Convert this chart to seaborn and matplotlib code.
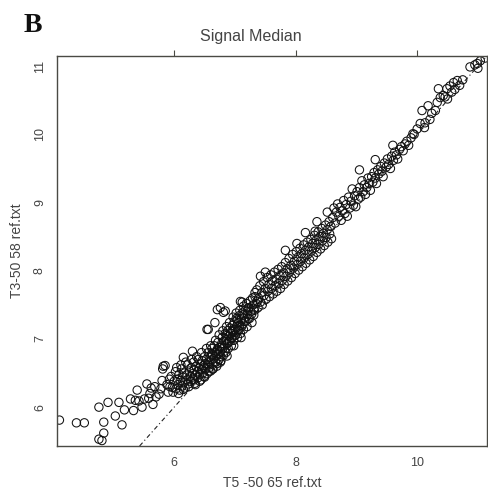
import pandas as pd
import matplotlib
matplotlib.use("Agg")
import matplotlib.pyplot as plt
import seaborn as sns

# points, grouped along the cloud (x = T5-50 65, y = T3-50 58)
low_tail = [(4.11, 5.81), (4.39, 5.77), (4.52, 5.77), (4.76, 5.53), (4.81, 5.51), (4.84, 5.62),
            (4.84, 5.78), (4.76, 6.00), (4.91, 6.07), (5.09, 6.07), (5.03, 5.87), (5.14, 5.74),
            (5.18, 5.96), (5.28, 6.12), (5.39, 6.25), (5.33, 5.95), (5.42, 6.09), (5.47, 6.00),
            (5.51, 6.12), (5.55, 6.34), (5.62, 6.28), (5.65, 6.04), (5.75, 6.19), (5.80, 6.39),
            (5.81, 6.56), (5.85, 6.61), (5.92, 6.41), (5.97, 6.29), (5.60, 6.20), (5.70, 6.15),
            (5.68, 6.30), (5.78, 6.27), (5.88, 6.33), (5.90, 6.22), (5.58, 6.13), (5.36, 6.10)]

dense_band = [(5.93, 6.30), (5.95, 6.45), (5.98, 6.22), (6.00, 6.38), (6.02, 6.52), (6.03, 6.27),
              (6.05, 6.41), (6.06, 6.33), (6.08, 6.48), (6.09, 6.25), (6.10, 6.39), (6.12, 6.56),
              (6.13, 6.31), (6.14, 6.44), (6.16, 6.36), (6.17, 6.50), (6.18, 6.28), (6.20, 6.47),
              (6.21, 6.40), (6.22, 6.62), (6.23, 6.34), (6.25, 6.53), (6.26, 6.45), (6.27, 6.38),
              (6.28, 6.58), (6.30, 6.49), (6.31, 6.41), (6.32, 6.66), (6.33, 6.55), (6.34, 6.35),
              (6.35, 6.47), (6.36, 6.60), (6.38, 6.52), (6.39, 6.43), (6.40, 6.70), (6.41, 6.57),
              (6.42, 6.48), (6.43, 6.63), (6.44, 6.40), (6.45, 6.55), (6.46, 6.68), (6.47, 6.50),
              (6.48, 6.61), (6.49, 6.45), (6.50, 6.74), (6.51, 6.64), (6.52, 6.56), (6.53, 6.70),
              (6.54, 6.49), (6.55, 6.62), (6.56, 6.80), (6.57, 6.67), (6.58, 6.58), (6.59, 6.73),
              (6.60, 6.53), (6.61, 6.69), (6.62, 6.86), (6.63, 6.76), (6.64, 6.63), (6.65, 6.71),
              (6.66, 6.90), (6.67, 6.80), (6.68, 6.66), (6.69, 6.75), (6.70, 6.60), (6.71, 6.85),
              (6.72, 6.95), (6.73, 6.78), (6.74, 6.70), (6.75, 6.88), (6.76, 6.82), (6.77, 6.68),
              (6.78, 6.93), (6.79, 7.02), (6.80, 6.86), (6.81, 6.76), (6.82, 6.97), (6.83, 6.90),
              (6.84, 7.08), (6.85, 6.80), (6.86, 6.99), (6.87, 6.93), (6.88, 7.12), (6.89, 6.86),
              (6.90, 7.04), (6.91, 6.96), (6.92, 7.16), (6.93, 7.08), (6.94, 6.90), (6.95, 7.02),
              (6.96, 7.20), (6.97, 7.11), (6.98, 6.98), (6.99, 7.25), (7.00, 7.14), (7.01, 7.06),
              (7.02, 7.30), (7.03, 7.19), (7.04, 7.02), (7.05, 7.24), (7.06, 7.12), (7.07, 7.34),
              (7.08, 7.20), (7.09, 7.08), (7.10, 7.28), (7.12, 7.38), (7.13, 7.22), (7.14, 7.14),
              (7.15, 7.31), (7.17, 7.42), (7.18, 7.26), (7.20, 7.18), (7.21, 7.36), (7.23, 7.46),
              (7.24, 7.30), (7.26, 7.40), (7.28, 7.24), (7.30, 7.50), (7.31, 7.35),
              (6.35, 6.33), (6.50, 6.44), (6.63, 6.56), (6.76, 6.66), (6.87, 6.75), (6.98, 6.90),
              (7.10, 7.02), (6.76, 7.46), (6.84, 7.41), (7.12, 7.54), (6.56, 7.14), (6.30, 6.82),
              (6.15, 6.73), (6.67, 7.24), (7.09, 7.55), (7.33, 7.68), (7.37, 7.55), (6.71, 7.43),
              (6.81, 7.39), (6.54, 7.14), (5.82, 6.60)]

dense_extra = [(6.04, 6.58), (6.07, 6.20), (6.11, 6.62), (6.15, 6.26), (6.19, 6.66), (6.24, 6.30),
               (6.29, 6.70), (6.33, 6.40), (6.37, 6.74), (6.42, 6.38), (6.45, 6.80), (6.49, 6.58),
               (6.53, 6.86), (6.57, 6.52), (6.60, 6.90), (6.64, 6.56), (6.68, 6.98), (6.71, 6.64),
               (6.74, 7.06), (6.77, 6.74), (6.80, 7.12), (6.83, 6.82), (6.86, 7.18), (6.89, 6.95),
               (6.91, 7.24), (6.94, 7.00), (6.97, 7.32), (7.00, 7.05), (7.02, 7.38), (7.05, 7.14),
               (7.08, 7.42), (7.11, 7.18), (7.14, 7.48), (7.16, 7.26), (7.19, 7.52), (7.22, 7.30),
               (7.25, 7.56), (7.27, 7.36), (7.29, 7.60), (7.31, 7.44), (6.62, 6.78), (6.70, 6.82),
               (6.78, 6.88), (6.86, 7.05), (6.95, 7.12), (7.04, 7.28), (7.13, 7.35), (7.22, 7.44)]

mid_band = [(7.32, 7.42), (7.33, 7.62), (7.35, 7.52), (7.36, 7.72), (7.38, 7.46), (7.39, 7.60),
            (7.41, 7.78), (7.42, 7.54), (7.44, 7.68), (7.45, 7.50), (7.47, 7.84), (7.48, 7.64),
            (7.50, 7.74), (7.51, 7.58), (7.53, 7.90), (7.54, 7.70), (7.56, 7.80), (7.57, 7.62),
            (7.59, 7.94), (7.60, 7.74), (7.62, 7.85), (7.63, 7.66), (7.65, 7.98), (7.66, 7.78),
            (7.68, 7.88), (7.69, 7.70), (7.71, 8.02), (7.72, 7.82), (7.74, 7.93), (7.75, 7.74),
            (7.77, 8.06), (7.78, 7.86), (7.80, 7.97), (7.81, 7.80), (7.83, 8.12), (7.84, 7.92),
            (7.86, 8.03), (7.87, 7.85), (7.89, 8.18), (7.90, 7.98), (7.92, 8.08), (7.93, 7.90),
            (7.95, 8.24), (7.96, 8.04), (7.98, 8.14), (7.99, 7.96), (8.01, 8.28), (8.02, 8.09),
            (8.04, 8.20), (8.05, 8.01), (8.07, 8.33), (8.08, 8.14), (8.10, 8.25), (8.11, 8.06),
            (8.13, 8.38), (8.14, 8.19), (8.16, 8.30), (8.17, 8.11), (8.19, 8.42), (8.20, 8.24),
            (8.22, 8.35), (8.23, 8.16), (8.25, 8.46), (8.26, 8.29), (8.28, 8.40), (8.29, 8.21),
            (8.31, 8.52), (8.32, 8.34), (8.34, 8.45), (8.35, 8.27), (8.37, 8.57), (8.38, 8.39),
            (8.40, 8.50), (8.41, 8.32), (8.43, 8.62), (8.44, 8.44), (8.46, 8.55), (8.47, 8.37),
            (8.49, 8.67), (8.50, 8.49), (8.52, 8.60), (8.53, 8.42), (8.55, 8.72), (8.56, 8.54),
            (8.58, 8.65), (8.59, 8.47),
            (7.50, 7.98), (7.42, 7.92), (7.83, 8.30), (8.02, 8.40), (8.16, 8.56), (8.35, 8.72),
            (8.52, 8.86), (8.32, 8.58)]

upper_band = [(8.61, 8.78), (8.63, 8.92), (8.65, 8.70), (8.67, 8.86), (8.69, 8.98), (8.71, 8.80),
              (8.73, 8.93), (8.75, 8.74), (8.77, 8.88), (8.79, 9.03), (8.81, 8.84), (8.83, 8.97),
              (8.85, 8.80), (8.87, 9.08), (8.89, 8.92), (8.91, 9.02), (8.93, 9.20), (8.95, 8.96),
              (8.97, 9.10), (8.99, 8.94), (9.01, 9.16), (9.03, 9.05), (9.05, 9.22), (9.07, 9.08),
              (9.09, 9.32), (9.11, 9.16), (9.13, 9.26), (9.15, 9.12), (9.17, 9.22), (9.19, 9.36),
              (9.21, 9.28), (9.23, 9.18), (9.25, 9.38), (9.27, 9.30), (9.29, 9.44), (9.31, 9.36),
              (9.33, 9.28), (9.35, 9.48), (9.37, 9.42), (9.40, 9.53), (9.42, 9.46), (9.44, 9.38),
              (9.46, 9.58), (9.49, 9.52), (9.51, 9.64), (9.53, 9.56), (9.56, 9.50), (9.58, 9.68),
              (9.61, 9.62), (9.63, 9.74), (9.66, 9.70), (9.68, 9.64), (9.71, 9.78), (9.74, 9.82),
              (9.77, 9.76), (9.80, 9.86), (9.83, 9.90), (9.86, 9.84), (9.90, 9.95), (9.95, 10.00),
              (9.05, 9.48), (9.31, 9.63), (9.60, 9.84)]

top_end = [(9.93, 10.01), (10.00, 10.08), (10.05, 10.16), (10.08, 10.35), (10.13, 10.17),
           (10.18, 10.42), (10.24, 10.31), (10.33, 10.47), (10.35, 10.67), (10.38, 10.54),
           (10.43, 10.57), (10.49, 10.67), (10.54, 10.71), (10.60, 10.76), (10.66, 10.79),
           (10.12, 10.10), (10.21, 10.22), (10.30, 10.35), (10.46, 10.55), (10.50, 10.52),
           (10.57, 10.62), (10.62, 10.66), (10.70, 10.72), (10.75, 10.80), (10.87, 10.99),
           (10.95, 11.02), (10.99, 11.04), (11.00, 10.97), (11.04, 11.08), (11.12, 11.12)]

x_lim = (4.07, 11.15)
y_lim = (5.43, 11.15)
x_ticks = [6, 8, 10]
y_ticks = [6, 7, 8, 9, 10, 11]

pts = low_tail + dense_band + dense_extra + mid_band + upper_band + top_end
df = pd.DataFrame(pts, columns=["T5", "T3"])

sns.set_style("white")
plt.rcParams["font.family"] = ["Liberation Sans", "DejaVu Sans"]
frame = "#4a4a44"
txt = "#444444"

fig = plt.figure(figsize=(4.88, 4.91), dpi=100)
ax = fig.add_axes([57 / 488, 1 - 446 / 491, 430 / 488, 390 / 491])

sns.scatterplot(data=df, x="T5", y="T3", ax=ax, marker="o", s=36,
                facecolors="none", edgecolor="#111111", linewidth=0.75)
ax.axline((6, 6), slope=1, color="#222222", lw=0.8, ls=(0, (4, 2.5, 1, 2.5)))

ax.set_xlim(*x_lim)
ax.set_ylim(*y_lim)
ax.set_xticks(x_ticks)
ax.set_yticks(y_ticks)
ax.tick_params(axis="both", direction="out", length=4.5, width=0.8, color=frame,
               labelsize=9, labelcolor=txt, pad=3.5)
ax.tick_params(top=True, right=True, labeltop=False, labelright=False)
for lab in ax.get_yticklabels():
    lab.set_rotation(90)
    lab.set_va("center")
for sp in ax.spines.values():
    sp.set_color(frame)
    sp.set_linewidth(1.0)

ax.set_xlabel("T5 -50 65 ref.txt", fontsize=10, color=txt)
ax.set_ylabel("T3-50 58 ref.txt", fontsize=10, color=txt)
ax.xaxis.set_label_coords(0.5, -0.095)
ax.xaxis.label.set_va("center")
ax.yaxis.set_label_coords(-0.092, 0.5)
ax.yaxis.label.set_va("center")

fig.text(251 / 488, 1 - 37 / 491, "Signal Median", ha="center", va="center",
         fontsize=11.5, color=txt)
fig.text(33 / 488, 1 - 25.5 / 491, "B", ha="center", va="center", fontsize=20,
         fontweight="bold", family=["Liberation Serif", "DejaVu Serif"], color="#111111")

fig.savefig("out.png", dpi=100)
